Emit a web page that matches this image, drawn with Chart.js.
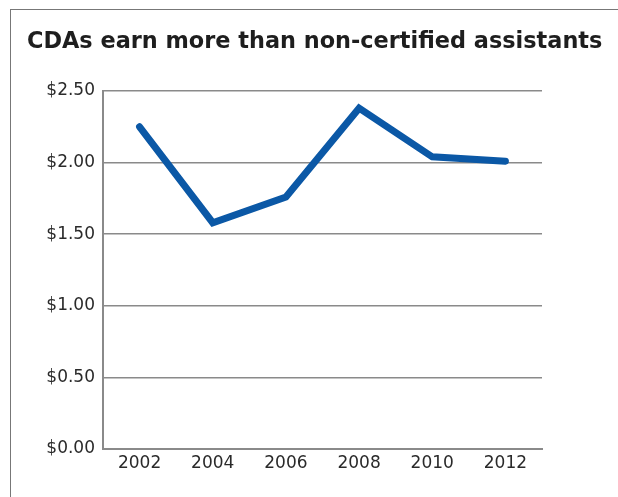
<!DOCTYPE html>
<html>
<head>
<meta charset="utf-8">
<title>CDA wage premium</title>
<script src="https://cdn.jsdelivr.net/npm/chart.js@4/dist/chart.umd.min.js"></script>
<style>
  html, body { margin: 0; padding: 0; background: #fff; }
  #frame {
    position: absolute; left: 10px; top: 9px; width: 640px; height: 520px;
    border: 1px solid #777;
  }
  #wrap { position: absolute; left: 0; top: 0; width: 618px; height: 497px; }
</style>
</head>
<body>
<div id="frame"></div>
<div id="wrap"><canvas id="wageChart"></canvas></div>
<script>
// hourly wage advantage of certified dental assistants, by survey year
const years = ['2002', '2004', '2006', '2008', '2010', '2012'];
const wageGap = [2.25, 1.58, 1.76, 2.38, 2.04, 2.01];
const yTicks = [0, 0.5, 1, 1.5, 2, 2.5];

const font = "'DejaVu Sans', 'Liberation Sans', Arial, sans-serif";
const gridColor = '#8a8a8a';

const ctx = document.getElementById('wageChart').getContext('2d');
new Chart(ctx, {
  type: 'line',
  data: {
    labels: years,
    datasets: [{
      label: 'Wage difference',
      data: wageGap,
      borderColor: '#0b58a6',
      borderWidth: 7,
      borderCapStyle: 'round',
      pointRadius: 0,
      pointHoverRadius: 0,
      tension: 0,
      fill: false
    }]
  },
  options: {
    responsive: true,
    maintainAspectRatio: false,
    animation: false,
    layout: { padding: { left: 27, right: 0, top: 0, bottom: 0 } },
    plugins: {
      legend: { display: false },
      tooltip: { enabled: false },
      title: {
        display: true,
        text: 'CDAs earn more than non-certified assistants',
        align: 'start',
        color: '#1e1e1e',
        font: { family: font, size: 22.4, weight: 'bold', lineHeight: 1.2 },
        padding: { top: 29, bottom: 35.1 }
      }
    },
    scales: {
      x: {
        offset: true,
        grid: { display: false, drawTicks: false },
        border: { display: true, color: gridColor, width: 2 },
        ticks: { color: '#2a2a2a', font: { family: font, size: 17 }, padding: 4, maxRotation: 0 },
        afterFit: scale => { scale.height = 48; }
      },
      y: {
        min: 0,
        max: 2.5,
        afterBuildTicks: scale => { scale.ticks = yTicks.map(v => ({ value: v })); },
        grid: { color: gridColor, lineWidth: 1.5, drawTicks: false },
        border: { display: true, color: gridColor, width: 2 },
        ticks: {
          color: '#2a2a2a',
          font: { family: font, size: 17 },
          padding: 8,
          callback: v => '$' + Number(v).toFixed(2)
        },
        afterFit: scale => { scale.width = 76; }
      },
      // empty right-hand axis, only reserves the white margin beside the plot
      yRight: {
        position: 'right',
        min: 0,
        max: 2.5,
        grid: { display: false, drawTicks: false },
        border: { display: false },
        ticks: { display: false },
        afterFit: scale => { scale.width = 76; }
      }
    }
  }
});
</script>
</body>
</html>
